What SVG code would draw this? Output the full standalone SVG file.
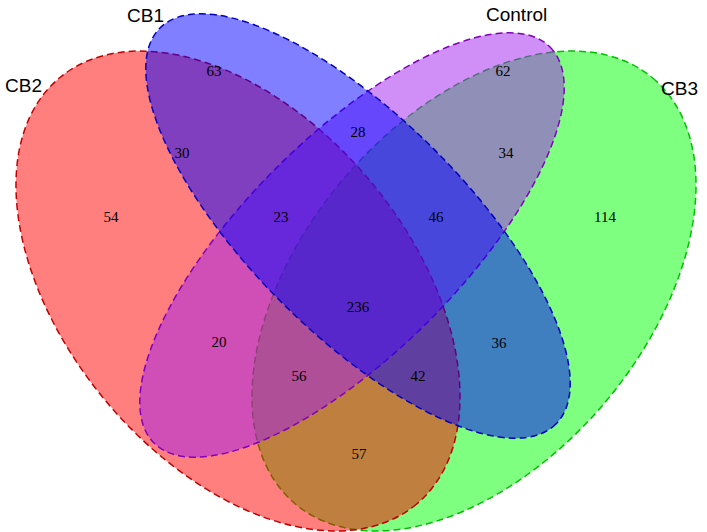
<svg xmlns="http://www.w3.org/2000/svg" width="707" height="532" viewBox="0 0 707 532">
<style>
.e{fill-opacity:0.5;stroke-width:1.5;stroke-dasharray:7,4}
.n{font-family:"Liberation Serif",serif;font-size:15px;text-anchor:middle}
.l{font-family:"Liberation Sans",sans-serif;font-size:19px}
</style>
<rect width="707" height="532" fill="#fff"/>
<g id="CB3"><ellipse class="e" cx="474" cy="291" rx="278" ry="172" transform="rotate(-50 474 291)" fill="#00ff00" stroke="#00c000"/></g>
<g id="CB2"><ellipse class="e" cx="238" cy="291" rx="278" ry="172" transform="rotate(50 238 291)" fill="#ff0000" stroke="#c00000"/></g>
<g id="Control"><ellipse class="e" cx="352" cy="245" rx="280" ry="108" transform="rotate(-45 352 245)" fill="#a020f0" stroke="#8000c0"/></g>
<g id="CB1"><ellipse class="e" cx="358" cy="226" rx="280" ry="108" transform="rotate(45 358 226)" fill="#0000ff" stroke="#0000c0"/></g>
<g id="connectors"></g>
<g id="labels">
<text class="l" x="5" y="92">CB2</text>
<text class="l" x="127" y="22">CB1</text>
<text class="l" x="486" y="21">Control</text>
<text class="l" x="661" y="95">CB3</text>
<text class="n" x="214" y="76">63</text>
<text class="n" x="503" y="76">62</text>
<text class="n" x="182" y="158">30</text>
<text class="n" x="358" y="137">28</text>
<text class="n" x="506" y="158">34</text>
<text class="n" x="111" y="222">54</text>
<text class="n" x="281" y="222">23</text>
<text class="n" x="436" y="222">46</text>
<text class="n" x="605" y="222">114</text>
<text class="n" x="358" y="312">236</text>
<text class="n" x="219" y="347">20</text>
<text class="n" x="499" y="348">36</text>
<text class="n" x="299" y="381">56</text>
<text class="n" x="418" y="381">42</text>
<text class="n" x="359" y="459">57</text>
</g>
</svg>
